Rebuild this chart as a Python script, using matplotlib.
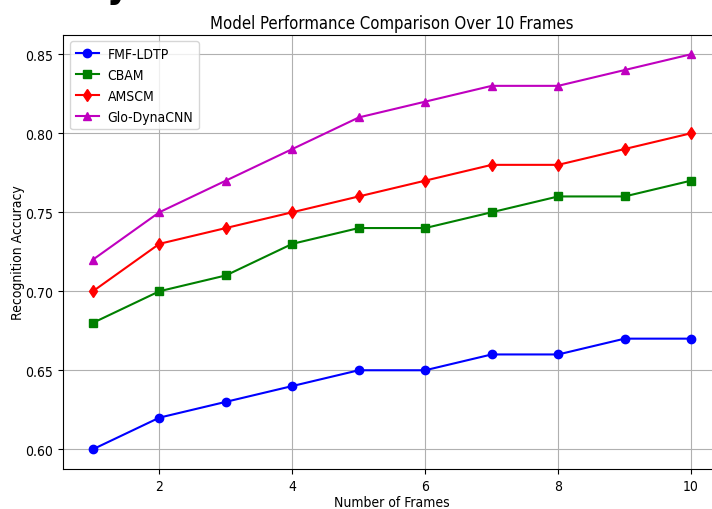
import matplotlib
matplotlib.use("Agg")
import matplotlib.pyplot as plt

plt.rcParams['font.family'] = ['DejaVu Sans']
plt.rcParams['font.stretch'] = 'condensed'

frames = [1, 2, 3, 4, 5, 6, 7, 8, 9, 10]
fmf_ldtp = [0.60, 0.62, 0.63, 0.64, 0.65, 0.65, 0.66, 0.66, 0.67, 0.67]
cbam = [0.68, 0.70, 0.71, 0.73, 0.74, 0.74, 0.75, 0.76, 0.76, 0.77]
amscm = [0.70, 0.73, 0.74, 0.75, 0.76, 0.77, 0.78, 0.78, 0.79, 0.80]
glo_dynacnn = [0.72, 0.75, 0.77, 0.79, 0.81, 0.82, 0.83, 0.83, 0.84, 0.85]

fig = plt.figure(figsize=(7.12, 5.10), dpi=100)
W, H = 712, 510
left, right, top, bottom = 63, 721, 35.5, 470
ax = fig.add_axes([left / W, 1 - bottom / H, (right - left) / W, (bottom - top) / H])

ax.plot(frames, fmf_ldtp, 'b-o', label='FMF-LDTP')
ax.plot(frames, cbam, 'g-s', label='CBAM')
ax.plot(frames, amscm, 'r-d', label='AMSCM')
ax.plot(frames, glo_dynacnn, 'm-^', label='Glo-DynaCNN')

ax.set_title('Model Performance Comparison Over 10 Frames', pad=5)
ax.set_xlabel('Number of Frames', labelpad=2)
ax.set_ylabel('Recognition Accuracy', labelpad=0.5)
ax.legend(loc='upper left', handlelength=1.7, handletextpad=0.6)
ax.grid(True)

fig.text(118 / W, 1 + 3 / H, 'y', fontsize=28, fontweight='bold', ha='center', va='baseline')

fig.savefig('out.png', dpi=100)
